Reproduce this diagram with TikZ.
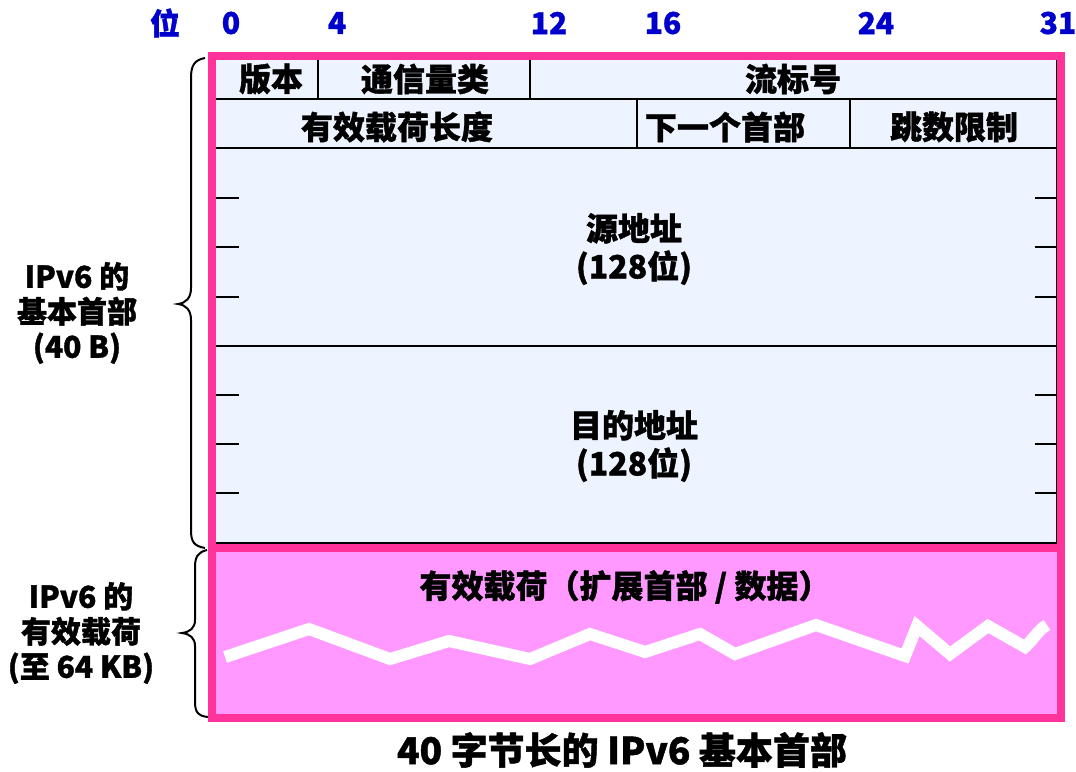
\documentclass[tikz,border=0pt]{standalone}
\usepackage{fontspec}
\setmainfont{Noto Sans CJK SC}[BoldFeatures={FakeBold=1.2}]
\definecolor{pinkb}{RGB}{255,51,153}
\definecolor{pinkf}{RGB}{255,153,255}
\definecolor{hdrf}{RGB}{238,244,255}
\definecolor{bitblue}{RGB}{0,0,204}
\begin{document}
\begin{tikzpicture}[x=1pt,y=-1pt,
  lbl/.style={font=\fontsize{32}{34}\selectfont\bfseries, inner sep=0pt},
  bitlbl/.style={font=\fontsize{30}{32}\selectfont\bfseries, text=bitblue, inner sep=0pt},
  side/.style={font=\fontsize{30}{35}\selectfont\bfseries, align=center, inner sep=0pt},
  caption/.style={font=\fontsize{37}{40}\selectfont\bfseries, inner sep=0pt},
  rule/.style={line width=2pt, draw=black},
  frame/.style={line width=8pt, draw=pinkb},
  brc/.style={line width=2pt, draw=black},
  zig/.style={line width=12pt, draw=white, line join=miter}]
\useasboundingbox (0,0) rectangle (1076,771);

% header area
\fill[hdrf] (216,52) rectangle (1057,544);
\draw[rule] (216,99) -- (1058,99);
\draw[rule] (216,148) -- (1058,148);
\draw[rule] (216,346) -- (1058,346);
\draw[rule] (216,543) -- (1058,543);
\draw[rule] (1057,52) -- (1057,544);
\draw[rule] (318,52) -- (318,99);
\draw[rule] (530,52) -- (530,99);
\draw[rule] (637,99) -- (637,148);
\draw[rule] (850,99) -- (850,148);
\foreach \yy in {198,247,297,395,444,493}{
  \draw[rule] (216,\yy) -- (239,\yy);
  \draw[rule] (1035,\yy) -- (1058,\yy);
}

% payload area
\draw[frame, fill=pinkf] (212,548) rectangle (1061,718);
\draw[frame] (212,56) rectangle (1061,548);

\draw[zig] (225,657) -- (309,629) -- (390,659) -- (449,641) -- (530,659) -- (590,634)
  -- (645,652) -- (700,634) -- (735,654) -- (816,625) -- (905,656) -- (917,626)
  -- (950,654) -- (988,626) -- (1025,647) .. controls (1033,640) and (1038,630) .. (1047,625);

% bit labels
\node[bitlbl] (bw) at (165,23) {位};
\node[bitlbl] (b0) at (231,23) {0};
\node[bitlbl] (b4) at (337,23) {4};
\node[bitlbl] (b12) at (549,23) {12};
\node[bitlbl] (b16) at (663,23) {16};
\node[bitlbl] (b24) at (876,23) {24};
\node[bitlbl] (b31) at (1058,23) {31};

% fields
\node[lbl] (ver) at (271,79) {版本};
\node[lbl] (tc) at (425,79) {通信量类};
\node[lbl] (fl) at (793,79) {流标号};
\node[lbl] (plen) at (397,127) {有效载荷长度};
\node[lbl] (nh) at (725,127) {下一个首部};
\node[lbl] (hl) at (954,127) {跳数限制};
\node[lbl, align=center, font=\fontsize{32}{38}\selectfont\bfseries] (src) at (634,249) {源地址\\(128位)};
\node[lbl, align=center, font=\fontsize{32}{38}\selectfont\bfseries] (dst) at (634,446) {目的地址\\(128位)};
\node[lbl] (pl) at (625,587) {有效载荷（扩展首部 / 数据）};

% braces
\draw[brc] (205,58) .. controls (194,60) and (191,66) .. (191,78) -- (191,288)
  .. controls (191,298) and (186,303) .. (178,304)
  .. controls (186,305) and (191,310) .. (191,320) -- (191,530)
  .. controls (191,542) and (194,546) .. (205,548);
\draw[brc] (207,550) .. controls (198,552) and (195,557) .. (195,567) -- (195,620)
  .. controls (195,628) and (190,632) .. (182,633)
  .. controls (190,634) and (195,638) .. (195,646) -- (195,702)
  .. controls (195,712) and (198,716) .. (208,717);

% side labels
\node[side] (hdrlbl) at (77,313) {IPv6 的\\基本首部\\(40 B)};
\node[side] (pllbl) at (81,633) {IPv6 的\\有效载荷\\(至 64 KB)};

\node[caption] (cap) at (622,750) {40 字节长的 IPv6 基本首部};
\end{tikzpicture}
\end{document}
